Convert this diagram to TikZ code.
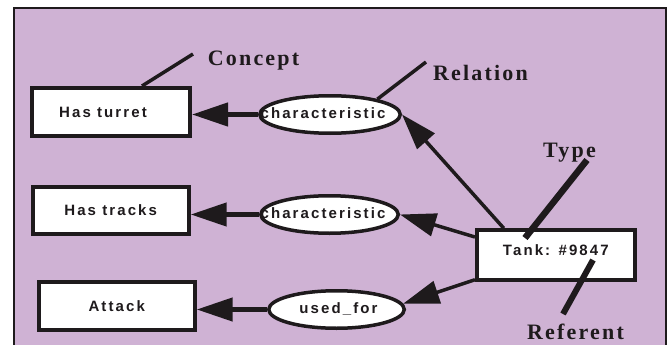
\documentclass[tikz,border=0pt]{standalone}
\usepackage{fontspec}
\setmainfont{Liberation Serif}
\newfontfamily\boxfont[LetterSpace=14]{Liberation Sans}
\newfontfamily\lblfont[LetterSpace=10]{Liberation Serif}
\usetikzlibrary{arrows.meta,shapes.geometric}
\definecolor{bg}{RGB}{207,178,212}
\definecolor{ink}{RGB}{30,26,28}
\begin{document}
\begin{tikzpicture}[x=1pt,y=-1pt,
  cbox/.style={rectangle, draw=ink, line width=4pt, fill=white, inner sep=0pt,
    font=\boxfont\bfseries\fontsize{15}{15}\selectfont, text=ink,
    text height=10.5pt, text depth=0pt},
  rel/.style={ellipse, draw=ink, line width=3.5pt, fill=white, inner sep=0pt,
    font=\boxfont\bfseries\fontsize{15}{15}\selectfont, text=ink,
    text height=8pt, text depth=0pt},
  lbl/.style={font=\lblfont\bfseries\fontsize{22}{22}\selectfont, anchor=base,
    inner sep=0pt, text=ink},
  ptr/.style={draw=ink, line width=3.5pt},
  bigptr/.style={draw=ink, line width=6.5pt},
  arr/.style={draw=ink, line width=4.5pt, -{Triangle[length=36pt,width=23pt]}},
  darr/.style={draw=ink, line width=3.5pt, -{Triangle[length=36pt,width=23pt]}}
]
\useasboundingbox (0,0) rectangle (672,345);
\fill[bg] (14,8) rectangle (666,346);
\draw[ink, line width=2.5pt] (14,347) -- (14,8) -- (666,8) -- (666,347);

% concept boxes
\node[cbox, minimum width=158pt, minimum height=48pt] (turret) at (111,112) {Has turret\hspace*{16pt}};
\node[cbox, minimum width=156pt, minimum height=47.3pt] (tracks) at (110.7,210.3) {Has tracks};
\node[cbox, minimum width=156pt, minimum height=47.7pt] (attack) at (116.7,306.2) {Attack};
\node[cbox, minimum width=157.7pt, minimum height=49.4pt, text depth=10.5pt] (tank) at (555.8,255) {Tank: \#9847};

% relations
\node[rel, minimum width=140.5pt, minimum height=37.5pt] (e1) at (330,114.5) {\makebox[0pt]{characteristic\hspace*{14pt}}};
\node[rel, minimum width=137.5pt, minimum height=37.5pt] (e2) at (329.5,214.5) {\makebox[0pt]{characteristic\hspace*{13pt}}};
\node[rel, minimum width=135.5pt, minimum height=37.5pt] (e3) at (336.5,309.5) {\makebox[0pt]{\hspace*{4pt}used\_for}};

% labels
\node[lbl] (concept) at (253.5,66) {Concept};
\node[lbl] (relation) at (480.5,81) {Relation};
\node[lbl] (type) at (569.5,157) {Type};
\node[lbl] (referent) at (575.5,339) {Referent};

\coordinate (cEnd) at (193,54);
\coordinate (rEnd) at (426,62);
\coordinate (tTop) at (587,160);
\coordinate (tBot) at (525,238);
\coordinate (fTop) at (593,260);
\coordinate (fBot) at (563,314);

% arrows
\draw[arr] (e1.west) -- (e1.west -| turret.east);
\draw[arr] (e2.west) -- (e2.west -| tracks.east);
\draw[arr] (e3.west) -- (e3.west -| attack.east);
\draw[darr] ([xshift=-52pt]tank.north) -- (e1.east);
\draw[darr] ([yshift=18pt]tank.west) -- (e2.east);
\draw[darr] ([yshift=2pt]tank.south west) -- (e3.5);

% pointers
\draw[ptr] ([xshift=31pt]turret.north) -- (cEnd);
\draw[ptr] (e1.18) -- (rEnd);
\draw[bigptr] (tTop) -- (tBot);
\draw[bigptr, line width=6pt] (fTop) -- (fBot);
\end{tikzpicture}
\end{document}
